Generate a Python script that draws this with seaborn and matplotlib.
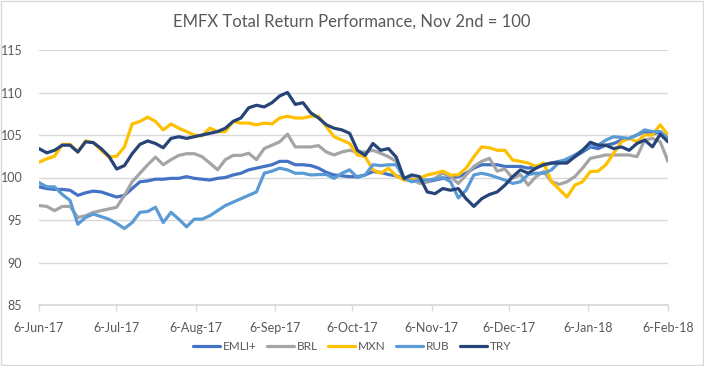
import numpy as np
import pandas as pd
import seaborn as sns
import matplotlib.pyplot as plt
import matplotlib.dates as mdates
from matplotlib.patches import Rectangle

# values, roughly every 3 days from 6-Jun-17 to 6-Feb-18
emli = [98.9, 98.7, 98.6, 98.6, 98.5, 97.9, 98.2, 98.4, 98.3, 98.0,
        97.7, 97.9, 98.7, 99.5, 99.6, 99.8, 99.8, 99.9, 99.9, 100.1,
        99.9, 99.8, 99.7, 99.9, 100.0, 100.3, 100.5, 100.9, 101.1, 101.3,
        101.5, 101.9, 101.9, 101.5, 101.5, 101.4, 101.1, 100.6, 100.3, 100.2,
        100.1, 100.1, 100.3, 100.7, 100.6, 100.35, 100.2, 99.9, 99.7, 99.5,
        99.5, 99.7, 99.9, 100.0, 100.1, 100.5, 101.1, 101.5, 101.5, 101.5,
        101.3, 101.3, 101.3, 101.1, 101.3, 101.5, 101.7, 101.9, 102.05, 102.45,
        103.0, 103.6, 103.4, 103.8, 104.0, 104.4, 104.6, 105.0, 105.4, 105.1,
        105.4, 104.4]
brl = [96.7, 96.6, 96.1, 96.6, 96.6, 95.3, 95.5, 95.9, 96.1, 96.3,
       96.5, 97.9, 99.5, 100.5, 101.5, 102.4, 101.5, 102.1, 102.6, 102.8,
       102.8, 102.45, 101.7, 100.9, 102.1, 102.6, 102.6, 102.85, 102.1, 103.4,
       103.8, 104.2, 105.1, 103.6, 103.6, 103.6, 103.75, 103.0, 102.65, 103.0,
       103.2, 103.0, 103.0, 103.2, 102.85, 102.45, 101.9, 99.9, 99.9, 99.3,
       99.5, 99.9, 100.5, 100.1, 99.3, 100.3, 101.3, 101.9, 102.25, 100.75,
       101.0, 99.9, 100.35, 99.1, 100.1, 100.7, 99.5, 99.2, 99.5, 100.1,
       101.1, 102.25, 102.45, 102.65, 102.65, 102.65, 102.65, 102.45, 104.4, 104.6,
       104.2, 101.9]
mxn = [101.8, 102.2, 102.5, 103.9, 103.9, 103.0, 104.3, 104.1, 103.2, 102.4,
       102.5, 103.6, 106.3, 106.6, 107.1, 106.6, 105.6, 106.3, 105.8, 105.4,
       105.0, 104.9, 105.8, 105.4, 105.4, 106.6, 106.4, 106.4, 106.2, 106.4,
       106.3, 107.0, 107.2, 107.0, 107.0, 107.2, 107.2, 106.0, 104.8, 104.4,
       104.0, 102.65, 102.45, 100.9, 100.5, 101.1, 100.2, 99.7, 99.7, 99.9,
       100.3, 100.5, 100.75, 100.3, 100.3, 101.1, 102.45, 103.6, 103.5, 103.2,
       103.2, 102.05, 101.9, 101.7, 101.3, 101.7, 99.5, 98.6, 97.7, 99.1,
       99.5, 100.7, 100.75, 101.5, 102.85, 104.2, 104.6, 104.2, 105.0, 105.0,
       106.2, 105.0]
rub = [99.4, 98.9, 98.9, 98.0, 97.3, 94.5, 95.3, 95.7, 95.4, 95.1,
       94.6, 94.0, 94.7, 95.9, 96.0, 96.5, 94.7, 95.9, 95.1, 94.2,
       95.1, 95.1, 95.5, 96.1, 96.7, 97.1, 97.5, 97.9, 98.3, 100.5,
       100.75, 101.1, 100.9, 100.5, 100.5, 100.3, 100.35, 100.35, 99.9, 100.5,
       100.9, 100.0, 100.3, 101.5, 101.4, 101.5, 101.5, 99.9, 99.5, 99.7,
       99.7, 99.8, 100.0, 99.5, 97.6, 98.5, 100.3, 100.5, 100.3, 100.0,
       99.7, 99.3, 99.5, 100.35, 100.5, 100.5, 100.9, 101.8, 102.2, 102.65,
       103.2, 103.8, 103.8, 104.4, 104.8, 104.7, 104.6, 105.0, 105.6, 105.4,
       105.4, 104.6]
try_ = [103.4, 102.9, 103.2, 103.8, 103.8, 103.0, 104.2, 104.1, 103.4, 102.5,
        101.0, 101.4, 102.8, 103.9, 104.3, 104.0, 103.5, 104.6, 104.8, 104.6,
        104.8, 105.0, 105.2, 105.4, 105.8, 106.6, 107.0, 108.2, 108.5, 108.3,
        108.8, 109.6, 110.0, 108.6, 108.8, 107.6, 107.0, 106.2, 105.8, 105.6,
        105.2, 103.2, 102.6, 104.0, 103.2, 103.4, 102.4, 99.9, 100.3, 100.1,
        98.3, 98.1, 98.7, 98.5, 98.7, 97.5, 96.6, 97.5, 98.0, 98.3,
        99.1, 100.1, 100.9, 100.5, 101.1, 101.5, 101.7, 101.7, 101.7, 102.45,
        103.2, 104.15, 103.8, 103.8, 103.4, 103.6, 103.2, 104.0, 104.4, 103.6,
        105.1, 104.2]

series_names = ["EMLI+", "BRL", "MXN", "RUB", "TRY"]
colors = ["#4472C4", "#A5A5A5", "#FFC000", "#5B9BD5", "#264478"]
tick_dates = ["2017-06-06", "2017-07-06", "2017-08-06", "2017-09-06", "2017-10-06",
              "2017-11-06", "2017-12-06", "2018-01-06", "2018-02-06"]

dates = pd.date_range("2017-06-06", "2018-02-06", periods=len(emli))
wide = pd.DataFrame({"EMLI+": emli, "BRL": brl, "MXN": mxn, "RUB": rub, "TRY": try_},
                    index=dates)
df = wide.reset_index(names="date").melt(id_vars="date", var_name="series", value_name="value")

sns.set_theme(style="white")
plt.rcParams["font.family"] = ["Lato", "DejaVu Sans"]
grey = "#595959"

fig = plt.figure(figsize=(7.04, 3.66), dpi=100)
ax = fig.add_axes([39 / 704, 1 - 305 / 366, (668 - 39) / 704, (305 - 50) / 366])

sns.lineplot(data=df, x="date", y="value", hue="series", hue_order=series_names,
             palette=colors, linewidth=2.3, ax=ax)

ax.set_ylim(85, 115)
ax.set_yticks(np.arange(85, 116, 5))
ax.set_xlim(pd.Timestamp("2017-06-06"), pd.Timestamp("2018-02-06"))
ax.set_xticks(pd.to_datetime(tick_dates))
ax.xaxis.set_major_formatter(mdates.DateFormatter("%-d-%b-%y"))
ax.grid(axis="y", color="#D9D9D9", linewidth=1)
ax.set_axisbelow(True)
for s in ["top", "right", "left"]:
    ax.spines[s].set_visible(False)
ax.spines["bottom"].set_color("#D9D9D9")
ax.tick_params(axis="y", length=0, pad=12, labelsize=9, labelcolor=grey)
ax.tick_params(axis="x", length=4, width=1, color="#D9D9D9", pad=8, labelsize=9,
               labelcolor=grey, bottom=True)
ax.set_xlabel("")
ax.set_ylabel("")

sns.move_legend(ax, "center", bbox_to_anchor=(0.5, 19 / 366), bbox_transform=fig.transFigure,
                ncol=5, frameon=False, title=None, fontsize=8.5, handlelength=2.3,
                columnspacing=0.9, handletextpad=0.2)
for t in ax.get_legend().get_texts():
    t.set_color(grey)

fig.text(0.5, 1 - 22 / 366, "EMFX Total Return Performance, Nov 2nd = 100",
         ha="center", va="center", fontsize=12, color=grey)
fig.patches.append(Rectangle((0.001, 0.002), 0.997, 0.995, transform=fig.transFigure,
                             fill=False, edgecolor="#D9D9D9", linewidth=1))

fig.savefig("out.png", dpi=100)
